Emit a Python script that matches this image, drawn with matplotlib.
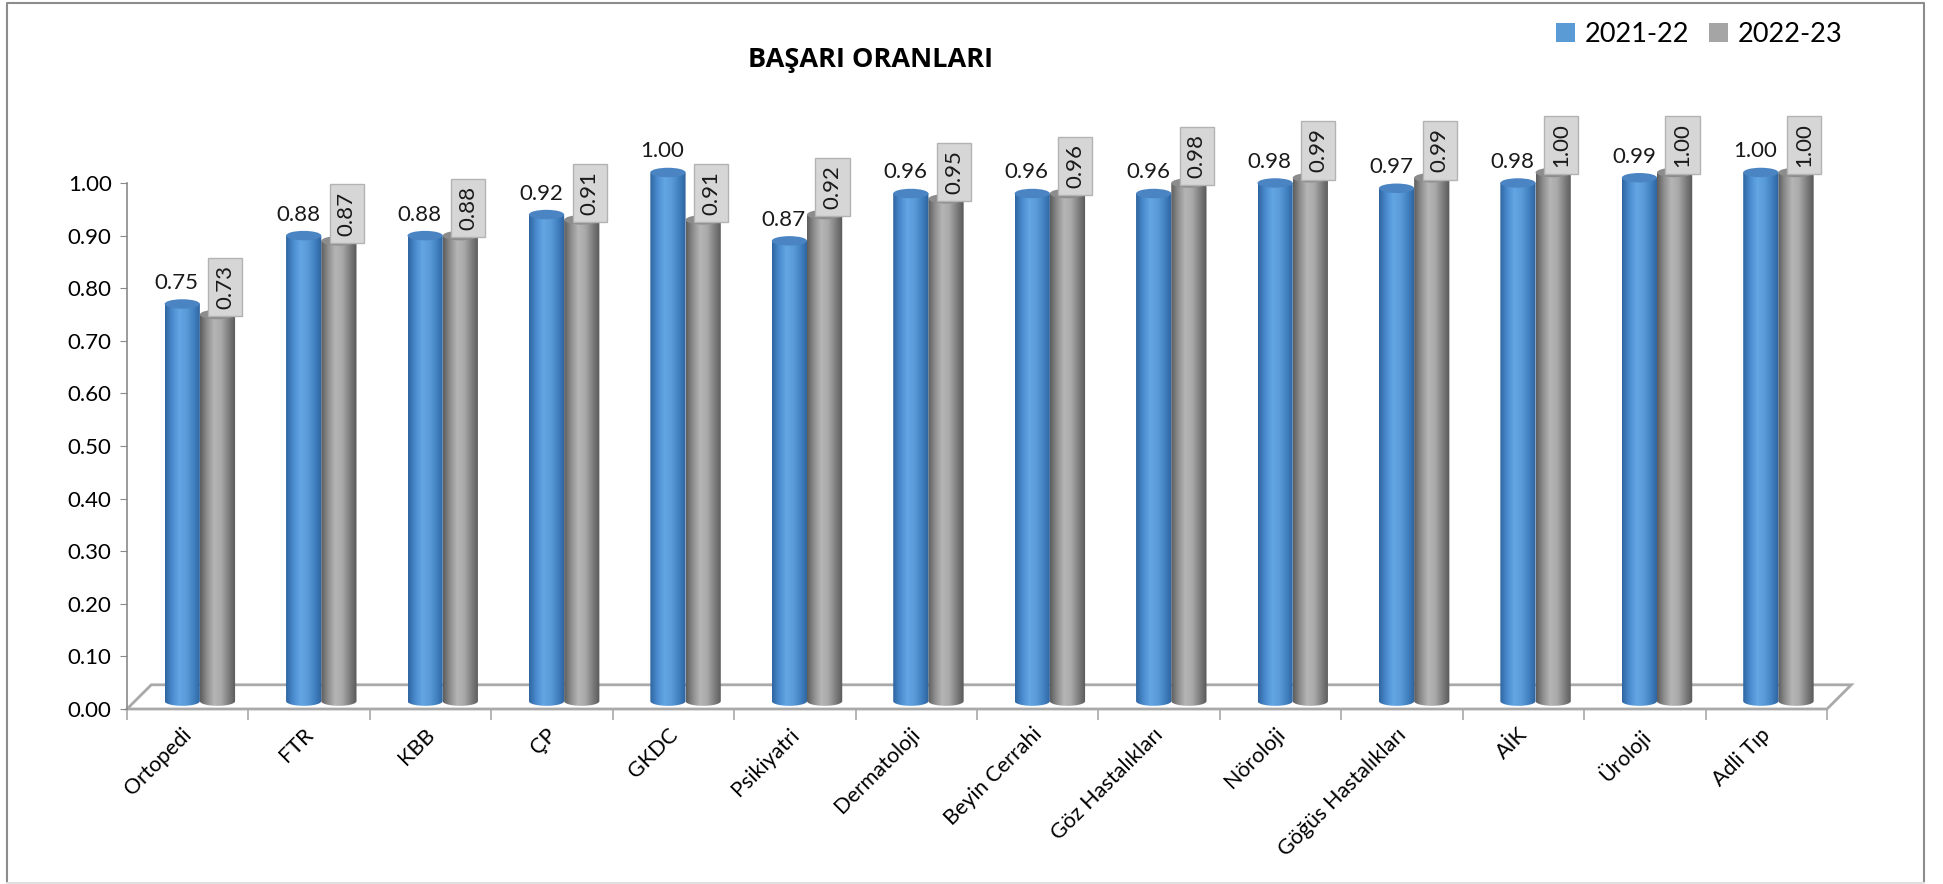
import numpy as np
import matplotlib
matplotlib.use("Agg")
import matplotlib.pyplot as plt
import matplotlib.transforms as mtransforms
from matplotlib.colors import LinearSegmentedColormap
from matplotlib.patches import Ellipse, Polygon, Patch
from matplotlib.lines import Line2D

bolumler = ["Ortopedi", "FTR", "KBB", "ÇP", "GKDC", "Psikiyatri", "Dermatoloji",
            "Beyin Cerrahi", "Göz Hastalıkları", "Nöroloji", "Göğüs Hastalıkları",
            "AİK", "Üroloji", "Adli Tıp"]
oran_2122 = [0.75, 0.88, 0.88, 0.92, 1.00, 0.87, 0.96, 0.96, 0.96, 0.98, 0.97, 0.98, 0.99, 1.00]
oran_2223 = [0.73, 0.87, 0.88, 0.91, 0.91, 0.92, 0.95, 0.96, 0.98, 0.99, 0.99, 1.00, 1.00, 1.00]
seriler = ["2021-22", "2022-23"]
y_ticks = np.arange(0, 1.01, 0.1)

plt.rcParams["font.family"] = ["Lato", "DejaVu Sans"]

mavi = LinearSegmentedColormap.from_list(
    "mavi", ["#2f64a0", "#4a8bcd", "#63a6e4", "#5a9bd8", "#4282c2", "#2e619c"])
gri = LinearSegmentedColormap.from_list(
    "gri", ["#5c5c5c", "#8f8f8f", "#b6b6b6", "#a8a8a8", "#7e7e7e", "#585858"])

W, H = 1943, 884
fig = plt.figure(figsize=(W / 100, H / 100), dpi=100)
ax = fig.add_axes([127 / W, 175 / H, 1700 / W, 1.25 * 526 / H])

taban = 0.015      # alt elips merkezi
ust_fark = 0.02    # 3B derinlik kaymasi
genislik = 0.29
eh = 0.018
grad = np.linspace(0, 1, 256).reshape(1, -1)


def silindir(x0, h, cmap, ust_renk, z):
    x1 = x0 + genislik
    xc = x0 + genislik / 2
    top = h + ust_fark
    t = np.linspace(np.pi, 2 * np.pi, 40)
    pts = [(x0, top), (x0, taban)]
    pts += list(zip(xc + genislik / 2 * np.cos(t), taban + eh / 2 * np.sin(t)))
    pts += [(x1, top)]
    poly = Polygon(pts, closed=True, facecolor="none", edgecolor="none")
    ax.add_patch(poly)
    im = ax.imshow(grad, cmap=cmap, extent=[x0, x1, taban - eh / 2, top],
                   aspect="auto", zorder=z, interpolation="bilinear")
    im.set_clip_path(poly)
    ax.add_patch(Ellipse((xc, top), genislik, eh, facecolor=ust_renk,
                         edgecolor="none", zorder=z + 0.1))


# zemin
zemin = Polygon([(0, 0), (14, 0), (14.2, 0.046), (0.2, 0.046)], closed=True,
                facecolor="white", edgecolor="#a9a9a9", lw=2, zorder=1, clip_on=False)
ax.add_patch(zemin)

for i, (a, b) in enumerate(zip(oran_2122, oran_2223)):
    silindir(i + 0.60, b, gri, "#8c8c8c", 3)
    silindir(i + 0.31, a, mavi, "#4a84c2", 4)
    ax.text(i + 0.31 + genislik / 2 - 0.045, a + 0.06, f"{a:.2f}", ha="center",
            va="center", fontsize=16, color="#1a1a1a", zorder=6)
    ax.text(i + 0.60 + genislik / 2 + 0.065, b + 0.03, f"{b:.2f}", ha="center",
            va="bottom", rotation=90, fontsize=16, color="#1a1a1a", zorder=6,
            bbox=dict(boxstyle="square,pad=0.32", fc="#d6d6d6", ec="#b3b3b3", lw=1))

ax.set_xlim(0, 14)
ax.set_ylim(0, 1.25)
ax.patch.set_visible(False)
for s in ["top", "right", "bottom"]:
    ax.spines[s].set_visible(False)
ax.spines["left"].set_bounds(0, 1)
ax.spines["left"].set_color("#8a8a8a")
ax.spines["left"].set_linewidth(1.2)
ax.set_yticks(y_ticks)
ax.set_yticklabels([f"{v:.2f}" for v in y_ticks])
ax.tick_params(axis="y", length=5, color="#8a8a8a", labelsize=16, pad=6)

ax.set_xticks(np.arange(14) + 0.5)
ax.set_xticklabels(bolumler, rotation=45, ha="right", rotation_mode="anchor")
ax.set_xticks(np.arange(15), minor=True)
ax.tick_params(axis="x", which="major", length=0, labelsize=15.5, pad=11)
ax.tick_params(axis="x", which="minor", length=8, color="#a9a9a9", width=1.2)
kaydir = mtransforms.ScaledTranslation(-6 / 100, 0, fig.dpi_scale_trans)
for lbl in ax.get_xticklabels():
    lbl.set_transform(lbl.get_transform() + kaydir)

fig.text(871 / W, 1 - 60 / H, "BAŞARI ORANLARI", ha="center", va="center",
         fontsize=19.5, fontweight="bold", family=["Open Sans", "DejaVu Sans"])

fig.legend([Patch(facecolor="#5b9bd5"), Patch(facecolor="#a5a5a5")], seriler,
           loc="center right", bbox_to_anchor=(1856 / W, 1 - 34 / H), ncol=2,
           frameon=False, fontsize=19.5, handlelength=0.7, handleheight=0.7,
           handletextpad=0.35, columnspacing=0.75, borderpad=0)

# cerceve
x0, x1, y0, y1 = 7 / W, 1924 / W, 1 - 883 / H, 1 - 3 / H
fig.add_artist(Line2D([x0, x0, x1, x1], [y0, y1, y1, y0], transform=fig.transFigure,
                      color="#8c8c8c", lw=1.5))
fig.add_artist(Line2D([x0, x1], [y0, y0], transform=fig.transFigure,
                      color="#e0e0e0", lw=1.5))

fig.savefig("out.png", dpi=100)
